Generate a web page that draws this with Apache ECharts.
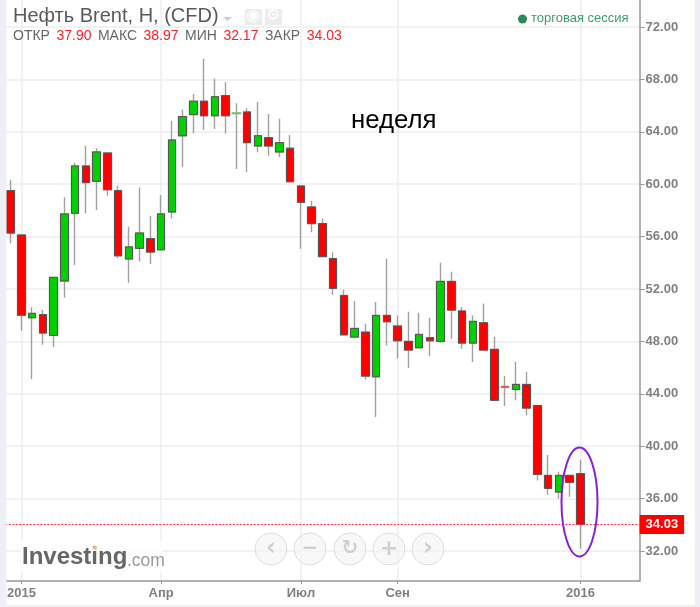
<!DOCTYPE html>
<html><head><meta charset="utf-8">
<script src="https://cdn.jsdelivr.net/npm/echarts@6/dist/echarts.min.js"></script>
<style>html,body{margin:0;padding:0;background:#fff}#c{width:700px;height:607px}</style>
</head><body><div id="c"></div>
<script>
var opens=[59.51,56.12,49.81,50.04,48.46,52.61,57.78,61.39,60.22,62.38,59.51,54.29,55.1,55.84,55.0,57.88,63.7,65.31,66.33,65.23,66.76,65.39,65.51,62.92,63.55,62.46,62.74,59.86,58.26,56.99,54.32,51.5,48.33,48.71,45.3,49.98,49.17,48.0,47.52,48.28,48.0,52.58,50.32,47.87,49.42,47.39,44.56,44.33,44.71,43.1,37.77,36.5,37.77,37.90];
var closes=[56.27,50.0,50.14,48.64,52.89,57.73,61.39,60.12,62.46,59.58,54.54,55.21,56.27,54.82,57.73,63.37,65.16,66.33,65.23,66.68,65.23,65.43,63.17,63.7,62.92,63.17,60.19,58.62,56.99,54.47,52.05,48.5,48.99,45.35,49.98,49.5,48.05,47.34,48.53,48.05,52.58,50.39,47.87,49.53,47.34,43.5,44.5,44.71,42.91,37.85,36.78,37.77,37.24,34.03];
var lows=[55.49,48.82,45.13,47.75,47.57,51.34,53.83,57.78,58.03,59.12,54.34,52.48,54.09,53.91,55.0,57.39,61.34,63.88,64.14,64.21,63.86,61.16,60.91,62.43,62.18,62.05,60.12,55.08,56.33,54.42,51.57,48.45,48.25,45.1,42.22,47.69,46.7,45.96,47.47,46.88,47.9,48.2,47.44,46.42,47.26,43.5,43.06,43.5,42.35,37.39,36.3,36.0,36.14,32.17];
var highs=[60.32,56.12,50.6,50.4,52.89,59.0,61.64,62.94,62.74,62.38,59.89,56.76,59.74,57.57,59.18,64.82,65.71,66.89,69.58,68.06,67.8,66.17,65.79,66.27,65.36,65.0,63.76,59.86,58.72,57.39,54.8,51.95,51.08,49.35,51.0,54.31,49.98,50.26,50.19,49.81,54.0,53.32,50.62,49.98,50.9,48.36,45.35,46.44,45.68,43.1,39.32,38.05,37.77,38.97];
var monthLabels={1:'2015',14:'Апр',27:'Июл',36:'Сен',53:'2016'};
var priceTicks=[32,36,40,44,48,52,56,60,64,68,72];
var lastPrice=34.03;
var categoryCount=59;
var categories=[];
for(var i=0;i<categoryCount;i++){categories.push(monthLabels[i]||'');}

var UP='#00d000',DOWN='#ff0000',FONT='"Liberation Sans",Arial,sans-serif';
function isLabelled(i){return !!monthLabels[i];}

var wickData=opens.map(function(o,i){return [o,closes[i],lows[i],highs[i]];});
var bodyData=opens.map(function(o,i){
  var c=closes[i],item={value:[o,c,Math.min(o,c),Math.max(o,c)]};
  if(Math.abs(o-c)<0.1){item.itemStyle={borderColor:c>o?'#55dd55':'#ee5555',borderColor0:c>o?'#55dd55':'#ee5555',borderWidth:1};}
  return item;
});

var buttons=[[271,'‹',24],[310,'−',20],[350,'↻',20],[389,'+',22],[428,'›',24]];
var graphics=[
  {type:'rect',z:50,shape:{x:0,y:0,width:6.5,height:607},style:{fill:'#eef0f5'}},
  {type:'rect',z:50,shape:{x:695,y:0,width:5,height:607},style:{fill:'#eef0f5'}},
  {type:'rect',z:50,shape:{x:0,y:605,width:700,height:2},style:{fill:'#eef0f5'}},
  {type:'text',z:60,left:13,top:6,style:{text:'Нефть Brent, H, (CFD)',fill:'#5a5a5a',font:'20px '+FONT}},
  {type:'polygon',z:60,shape:{points:[[223,17],[232,17],[227.5,21]]},style:{fill:'#cccccc'}},
  {type:'rect',z:60,shape:{x:245,y:9,width:17,height:16},style:{fill:'#ececec'}},
  {type:'rect',z:60,shape:{x:265,y:9,width:17,height:16},style:{fill:'#ececec'}},
  {type:'text',z:61,left:246,top:8,style:{text:'◉',fill:'#ffffff',font:'16px "DejaVu Sans"'}},
  {type:'text',z:61,left:266,top:8,style:{text:'⚙',fill:'#ffffff',font:'16px "DejaVu Sans"'}},
  {type:'text',z:60,left:13,top:29,style:{
    text:'{g|ОТКР} {r|37.90} {g|МАКС} {r|38.97} {g|МИН} {r|32.17} {g|ЗАКР} {r|34.03}',
    rich:{g:{fill:'#666666',font:'14px '+FONT,padding:[0,1.3,0,1.3]},r:{fill:'#ff2020',font:'14px '+FONT,padding:[0,1.3,0,1.3]}},font:'14px '+FONT}},
  {type:'circle',z:60,shape:{cx:522.5,cy:19,r:4.5},style:{fill:'#2e8b57'}},
  {type:'text',z:60,left:531,top:12,style:{text:'торговая сессия',fill:'#3f9a6b',font:'13px '+FONT}},
  {type:'text',z:60,left:351,top:108,style:{text:'неделя',fill:'#000000',font:'25.8px '+FONT}},
  {type:'ellipse',z:60,shape:{cx:579.5,cy:502,rx:18,ry:54.5},style:{fill:'none',stroke:'#8a1fd0',lineWidth:2}},
  {type:'rect',z:55,shape:{x:21,y:541,width:142,height:32},style:{fill:'rgba(255,255,255,0.8)'}},
  {type:'text',z:60,left:22,top:545,style:{text:'Investing',fill:'#666666',font:'bold 24px '+FONT}},
  {type:'text',z:60,left:127,top:552,style:{text:'.com',fill:'#9a9a9a',font:'17.5px '+FONT}},
  {type:'circle',z:61,shape:{cx:95,cy:548,r:2},style:{fill:'#f7c27a'}}
];
buttons.forEach(function(b){
  graphics.push({type:'circle',z:60,shape:{cx:b[0],cy:549,r:16},style:{fill:'rgba(245,245,245,0.7)',stroke:'#dddddd',lineWidth:1}});
  graphics.push({type:'text',z:61,x:b[0],y:549,style:{text:b[1],fill:'#cfcfcf',font:'bold '+b[2]+'px "DejaVu Sans"',align:'center',verticalAlign:'middle'}});
});

var chart=echarts.init(document.getElementById('c'),null,{renderer:'canvas'});
chart.setOption({
  animation:false,
  backgroundColor:'#ffffff',
  grid:{left:5.3,top:0,right:60.4,bottom:26,containLabel:false},
  xAxis:{type:'category',data:categories,boundaryGap:true,
    axisLine:{lineStyle:{color:'#999999',width:1.5}},
    axisTick:{show:true,alignWithLabel:true,interval:isLabelled,length:3,lineStyle:{color:'#999999'}},
    axisLabel:{interval:isLabelled,color:'#808080',fontFamily:FONT,fontWeight:'bold',fontSize:13,margin:6,hideOverlap:false},
    splitLine:{show:true,alignWithLabel:true,interval:isLabelled,lineStyle:{color:'#eeeeee',width:1.5}}
  },
  yAxis:{type:'value',position:'right',min:29.71,max:74.06,scale:true,
    axisLine:{show:true,lineStyle:{color:'#999999',width:1.5}},
    axisTick:{show:true,length:5,customValues:priceTicks,lineStyle:{color:'#999999'}},
    axisLabel:{customValues:priceTicks,showMinLabel:true,showMaxLabel:true,color:'#808080',fontFamily:FONT,fontWeight:'bold',fontSize:13,margin:6,
      formatter:function(v){return v.toFixed(2);}},
    splitLine:{show:true,customValues:priceTicks,lineStyle:{color:'#eeeeee',width:1.5}}
  },
  series:[
    {name:'wick',type:'candlestick',barWidth:8,data:wickData,silent:true,
      itemStyle:{color:'#a0a0a0',color0:'#a0a0a0',borderColor:'#a0a0a0',borderColor0:'#a0a0a0',borderWidth:1.4}},
    {name:'Нефть Brent',type:'candlestick',barWidth:8,data:bodyData,
      itemStyle:{color:UP,color0:DOWN,borderColor:'#555555',borderColor0:'#555555',borderWidth:1},
      markLine:{silent:true,symbol:'none',animation:false,
        lineStyle:{type:[2,1.5],color:'#ff3030',width:1.2},
        label:{position:'end',distance:0,formatter:function(){return lastPrice.toFixed(2);},
          color:'#ffffff',backgroundColor:'#ff0000',fontFamily:FONT,fontWeight:'bold',fontSize:13,padding:[3,6,3,6]},
        data:[{yAxis:lastPrice}]}
    }
  ],
  graphic:graphics
});
</script></body></html>
